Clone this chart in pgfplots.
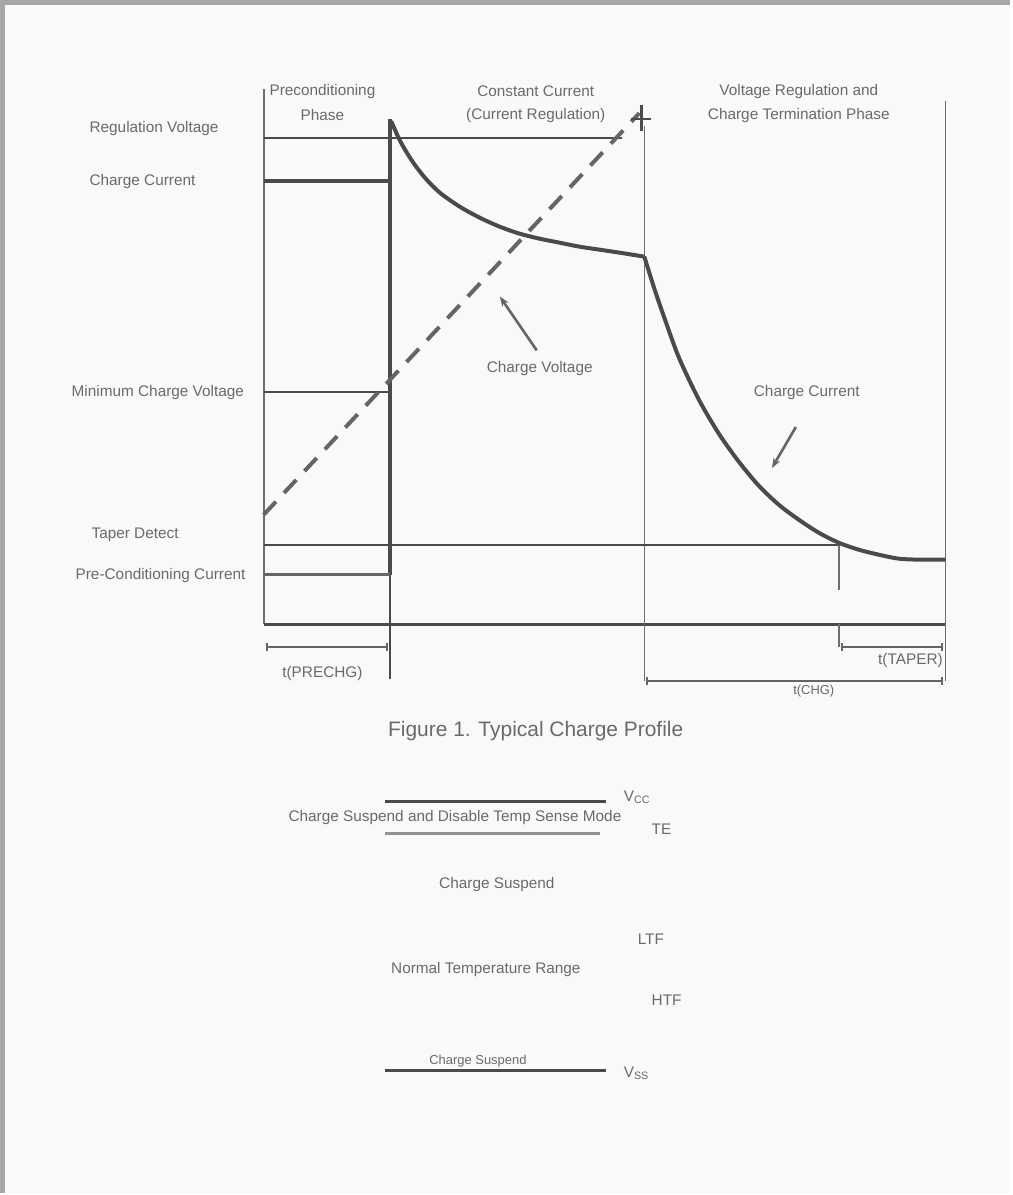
\documentclass[border=0pt]{standalone}
\usepackage{pgfplots}
\pgfplotsset{compat=1.18}
\usepackage{fontspec}
\setmainfont{Liberation Sans}
\usetikzlibrary{arrows.meta}
\definecolor{ln}{HTML}{4A4A4A}
\definecolor{tx}{HTML}{6A6A6A}
\definecolor{bg}{HTML}{F8F9F9}
\tikzset{lb/.style={text=tx, font=\fontsize{7.7}{8}\selectfont, inner sep=0pt}}
\begin{document}
\begin{tikzpicture}
\begin{axis}[
    scale only axis, width=506pt, height=597.5pt,
    xmin=0, xmax=1012, ymin=0, ymax=1195, y dir=reverse,
    hide axis, clip=false,
]
% page background and frame
\addplot[draw=none, fill=bg] coordinates {(0,0) (1012,0) (1012,1195) (0,1195)} -- cycle;
\addplot[gray!70, line width=2.5pt] coordinates {(1,1195) (1,1) (1012,1)};

% chart frame
\addplot[ln!80, line width=1pt] coordinates {(263,88) (263,625)};
\addplot[ln, line width=1.6pt] coordinates {(263,625) (947,625)};
\addplot[ln!80, line width=0.8pt] coordinates {(947,100) (947,682)};
\addplot[ln!80, line width=0.8pt] coordinates {(645,125) (645,682)};
\addplot[ln, line width=1.8pt] coordinates {(390,118) (390,575)};
\addplot[ln, line width=0.9pt] coordinates {(390,575) (390,680)};

% level lines
\addplot[ln, line width=1.2pt] coordinates {(263,137) (623,137)};
\addplot[ln, line width=1.8pt] coordinates {(263,180) (390,180)};
\addplot[ln, line width=1pt] coordinates {(263,392) (390,392)};
\addplot[ln, line width=1pt] coordinates {(263,545) (840,545)};
\addplot[ln!85, line width=1.8pt] coordinates {(263,575) (390,575)};
\addplot[ln!80, line width=1pt] coordinates {(840,545) (840,590)};
\addplot[ln!80, line width=0.8pt] coordinates {(840,625) (840,648)};

% charge voltage (dashed)
\addplot[ln!85, line width=2pt, dash pattern=on 9pt off 6pt] coordinates {(263,515) (640,112)};
\addplot[ln, line width=1pt] coordinates {(632,118) (652,118)};
\addplot[ln, line width=1.2pt] coordinates {(642,104) (642,130)};

% charge current
\addplot[ln, line width=2pt, smooth] coordinates {
 (391,120) (400,140) (412,160) (425,177) (440,192) (460,206) (480,217)
 (500,226) (520,233) (540,238) (560,242) (580,246) (600,249) (620,252) (645,256)};
\addplot[ln, line width=2pt, smooth] coordinates {
 (645,256) (655,288) (666,320) (680,358) (700,400) (720,434) (740,462)
 (760,486) (780,505) (800,520) (820,533) (840,543) (860,550) (880,555)
 (900,559) (920,560) (947,560)};

% pointer arrows
\addplot[ln!85, line width=1.3pt, -{Stealth[length=5pt]}] coordinates {(537,350) (500,296)};
\addplot[ln!85, line width=1.3pt, -{Stealth[length=5pt]}] coordinates {(797,427) (773,468)};

% time brackets
\addplot[ln!85, line width=1pt, {Bar[width=4pt]}-{Bar[width=4pt]}] coordinates {(265,648) (388,648)};
\addplot[ln!85, line width=1pt, {Bar[width=4pt]}-{Bar[width=4pt]}] coordinates {(842,648) (945,648)};
\addplot[ln!85, line width=1pt, {Bar[width=4pt]}-{Bar[width=4pt]}] coordinates {(647,682) (945,682)};

% phase labels
\node[lb] at (322,90) {Preconditioning};
\node[lb] at (322,114) {Phase};
\node[lb] at (536,90) {Constant Current};
\node[lb] at (536,114) {(Current Regulation)};
\node[lb] at (800,90) {Voltage Regulation and};
\node[lb] at (800,114) {Charge Termination Phase};

% level labels
\node[lb, anchor=west] at (88,127) {Regulation Voltage};
\node[lb, anchor=west] at (88,181) {Charge Current};
\node[lb, anchor=west] at (70,392) {Minimum Charge Voltage};
\node[lb, anchor=west] at (90,535) {Taper Detect};
\node[lb, anchor=west] at (74,576) {Pre-Conditioning Current};

\node[lb] at (540,368) {Charge Voltage};
\node[lb] at (808,392) {Charge Current};

\node[lb] at (322,674) {t(PRECHG)};
\node[lb] at (912,661) {t(TAPER)};
\node[lb, font=\fontsize{6.5}{7}\selectfont] at (815,692) {t(CHG)};

\node[lb, font=\fontsize{10.5}{11}\selectfont] at (536,732) {Figure 1. Typical Charge Profile};

% temperature sense figure
\addplot[ln, line width=1.5pt] coordinates {(385,803) (607,803)};
\addplot[ln!60, line width=1.5pt] coordinates {(385,835) (600,835)};
\addplot[ln, line width=1.5pt] coordinates {(385,1073) (607,1073)};
\node[lb, anchor=west] at (624,798) {V$_\mathrm{CC}$};
\node[lb] at (455,819) {Charge Suspend and Disable Temp Sense Mode};
\node[lb, anchor=west] at (652,830) {TE};
\node[lb] at (497,886) {Charge Suspend};
\node[lb, anchor=west] at (638,941) {LTF};
\node[lb] at (486,971) {Normal Temperature Range};
\node[lb, anchor=west] at (652,1002) {HTF};
\node[lb, font=\fontsize{6.5}{7}\selectfont] at (478,1063) {Charge Suspend};
\node[lb, anchor=west] at (624,1075) {V$_\mathrm{SS}$};
\end{axis}
\end{tikzpicture}
\end{document}
